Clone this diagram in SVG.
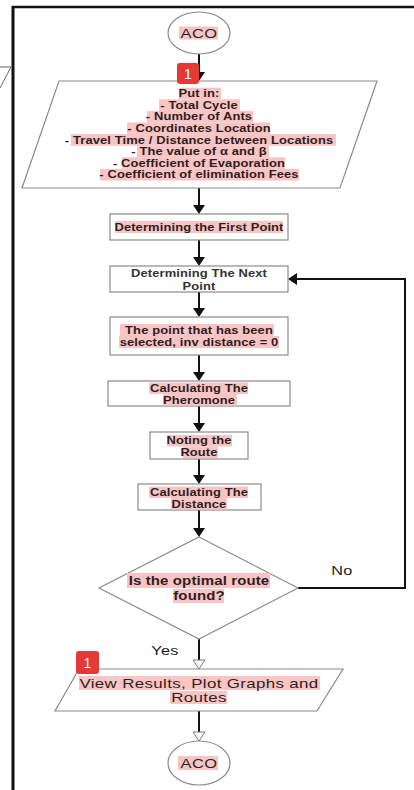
<svg xmlns="http://www.w3.org/2000/svg" width="414" height="790" viewBox="0 0 414 790">
<style>
.shape{fill:#fff;stroke:#8a8a8a;stroke-width:1.2}
.hl{fill:#f9c4c4}
.t{font-family:"Liberation Sans",Arial,sans-serif;font-weight:bold;font-size:10.6px;letter-spacing:0.1px;fill:#2e1e1e;text-anchor:middle}
.big{font-size:12.5px;letter-spacing:0.1px}
.lbl{font-family:"Liberation Sans",Arial,sans-serif;font-size:13.5px;letter-spacing:0.3px;fill:#222;text-anchor:middle}
.conn{fill:none;stroke:#111;stroke-width:2}
.badge{fill:#e53935}
.bt{font-family:"Liberation Sans",Arial,sans-serif;font-size:14px;fill:#fff;text-anchor:middle}
</style>
<defs>
<marker id="arr" markerUnits="userSpaceOnUse" viewBox="0 0 9 12" refX="7" refY="6" markerWidth="9" markerHeight="12" orient="auto">
<path d="M0,0 L9,6 L0,12 z" fill="#111"/>
</marker>
<marker id="harr" markerUnits="userSpaceOnUse" viewBox="-1 -1 11 14" refX="7" refY="6" markerWidth="11" markerHeight="14" orient="auto">
<path d="M0,0 L9,6 L0,12 z" fill="#fff" stroke="#777" stroke-width="1"/>
</marker>
</defs>
<rect width="414" height="790" fill="#fff"/>
<g id="frame">
<line x1="12" y1="7" x2="414" y2="7" stroke="#111" stroke-width="2.5"/>
<line x1="13" y1="6" x2="13" y2="790" stroke="#111" stroke-width="3"/>
<polyline points="0,67 11,67 0,88" fill="none" stroke="#666" stroke-width="1"/>
</g>
<g id="connectors">
<line class="conn" x1="199" y1="54" x2="199" y2="79" marker-end="url(#arr)"/>
<line class="conn" x1="199" y1="188" x2="199" y2="212" marker-end="url(#arr)"/>
<line class="conn" x1="199" y1="240" x2="199" y2="264" marker-end="url(#arr)"/>
<line class="conn" x1="199" y1="292" x2="199" y2="315" marker-end="url(#arr)"/>
<line class="conn" x1="199" y1="355" x2="199" y2="379" marker-end="url(#arr)"/>
<line class="conn" x1="199" y1="406" x2="199" y2="430" marker-end="url(#arr)"/>
<line class="conn" x1="199" y1="459" x2="199" y2="482" marker-end="url(#arr)"/>
<line class="conn" x1="199" y1="510" x2="199" y2="535" marker-end="url(#arr)"/>
<polyline class="conn" points="298,588 405,588 405,279 290,279" marker-end="url(#arr)"/>
<line class="conn" x1="199" y1="639" x2="199" y2="667" marker-end="url(#harr)"/>
<line class="conn" x1="199" y1="711" x2="199" y2="739" marker-end="url(#harr)"/>
<text class="lbl" transform="translate(342 0) scale(1.2 1)" x="0" y="575">No</text>
<text class="lbl" transform="translate(165 0) scale(1.2 1)" x="0" y="655">Yes</text>
</g>
<g id="start">
<ellipse class="shape" cx="199" cy="33" rx="31" ry="21"/>
<rect class="hl" x="179" y="26.5" width="39" height="13"/>
<text class="lbl" transform="translate(199 0) scale(1.22 1)" x="0" y="38" style="fill:#2e1e1e">ACO</text>
</g>
<g id="input">
<polygon class="shape" points="59,81 377,81 340,188 22,188"/>
<rect class="hl" x="179" y="87.7" width="42" height="11.6"/>
<rect class="hl" x="159" y="99.3" width="81" height="11.6"/>
<rect class="hl" x="147" y="110.9" width="106" height="11.6"/>
<rect class="hl" x="127" y="122.5" width="143" height="11.6"/>
<rect class="hl" x="71" y="134.1" width="265" height="11.6"/>
<rect class="hl" x="137" y="145.7" width="132" height="11.6"/>
<rect class="hl" x="122" y="157.3" width="163" height="11.6"/>
<rect class="hl" x="100" y="168.9" width="199" height="11.6"/>
<text class="t" transform="translate(199 0) scale(1.22 1)" x="0" y="97.3">Put in:</text>
<text class="t" transform="translate(199 0) scale(1.22 1)" x="0" y="108.9">- Total Cycle</text>
<text class="t" transform="translate(199 0) scale(1.22 1)" x="0" y="120.5">- Number of Ants</text>
<text class="t" transform="translate(199 0) scale(1.22 1)" x="0" y="132.1">- Coordinates Location</text>
<text class="t" transform="translate(199 0) scale(1.22 1)" x="0" y="143.7">- Travel Time / Distance between Locations</text>
<text class="t" transform="translate(199 0) scale(1.22 1)" x="0" y="155.3">- The value of α and β</text>
<text class="t" transform="translate(199 0) scale(1.22 1)" x="0" y="166.9">- Coefficient of Evaporation</text>
<text class="t" transform="translate(199 0) scale(1.22 1)" x="0" y="178.5">- Coefficient of elimination Fees</text>
</g>
<g id="first">
<rect class="shape" x="110" y="214" width="178" height="26"/>
<rect class="hl" x="115" y="221" width="168" height="12"/>
<text class="t" transform="translate(199 0) scale(1.22 1)" x="0" y="231">Determining the First Point</text>
</g>
<g id="next">
<rect class="shape" x="110" y="266" width="178" height="26"/>
<text class="t" transform="translate(199 0) scale(1.22 1)" x="0" y="277.5" style="fill:#333">Determining The Next</text>
<text class="t" transform="translate(199 0) scale(1.22 1)" x="0" y="290" style="fill:#333">Point</text>
</g>
<g id="selected">
<rect class="shape" x="110" y="317" width="178" height="38"/>
<rect class="hl" x="120" y="324" width="154" height="12"/>
<rect class="hl" x="119" y="336" width="160" height="12"/>
<text class="t" transform="translate(199 0) scale(1.22 1)" x="0" y="334">The point that has been</text>
<text class="t" transform="translate(199 0) scale(1.22 1)" x="0" y="346">selected, inv distance = 0</text>
</g>
<g id="pheromone">
<rect class="shape" x="108" y="381" width="182" height="25"/>
<rect class="hl" x="149" y="382.5" width="99" height="11.5"/>
<rect class="hl" x="163" y="394" width="74" height="11.5"/>
<text class="t" transform="translate(199 0) scale(1.22 1)" x="0" y="392">Calculating The</text>
<text class="t" transform="translate(199 0) scale(1.22 1)" x="0" y="404">Pheromone</text>
</g>
<g id="route">
<rect class="shape" x="150" y="432" width="98" height="27"/>
<rect class="hl" x="167" y="435" width="65" height="11.5"/>
<rect class="hl" x="183" y="446.5" width="35" height="11.5"/>
<text class="t" transform="translate(199 0) scale(1.22 1)" x="0" y="444.5">Noting the</text>
<text class="t" transform="translate(199 0) scale(1.22 1)" x="0" y="456">Route</text>
</g>
<g id="distance">
<rect class="shape" x="138" y="484" width="123" height="26"/>
<rect class="hl" x="149" y="486.5" width="99" height="11.5"/>
<rect class="hl" x="171" y="498" width="56" height="11.5"/>
<text class="t" transform="translate(199 0) scale(1.22 1)" x="0" y="496">Calculating The</text>
<text class="t" transform="translate(199 0) scale(1.22 1)" x="0" y="508">Distance</text>
</g>
<g id="decision">
<polygon class="shape" points="199,537 298,588 199,639 99,588"/>
<rect class="hl" x="127" y="573" width="143" height="15"/>
<rect class="hl" x="173" y="589" width="51" height="14"/>
<text class="t big" transform="translate(199 0) scale(1.2 1)" x="0" y="585">Is the optimal route</text>
<text class="t big" transform="translate(199 0) scale(1.2 1)" x="0" y="600">found?</text>
</g>
<g id="output">
<polygon class="shape" points="79,669 343,669 317,711 55,711"/>
<rect class="hl" x="79" y="676" width="241" height="14"/>
<rect class="hl" x="170" y="691" width="57" height="13"/>
<text class="lbl" transform="translate(199 0) scale(1.25 1)" x="0" y="688" style="fill:#2e1e1e">View Results, Plot Graphs and</text>
<text class="lbl" transform="translate(199 0) scale(1.25 1)" x="0" y="702.5" style="fill:#2e1e1e">Routes</text>
</g>
<g id="end">
<ellipse class="shape" cx="199" cy="763" rx="31" ry="22"/>
<rect class="hl" x="178" y="756" width="40" height="14"/>
<text class="lbl" transform="translate(199 0) scale(1.22 1)" x="0" y="768" style="fill:#2e1e1e">ACO</text>
</g>
<g id="badges">
<rect class="badge" x="177" y="63" width="22" height="21" rx="3"/>
<text class="bt" x="188" y="79">1</text>
<rect class="badge" x="76" y="651" width="23" height="23" rx="3"/>
<text class="bt" x="87.5" y="668">1</text>
</g>
</svg>
